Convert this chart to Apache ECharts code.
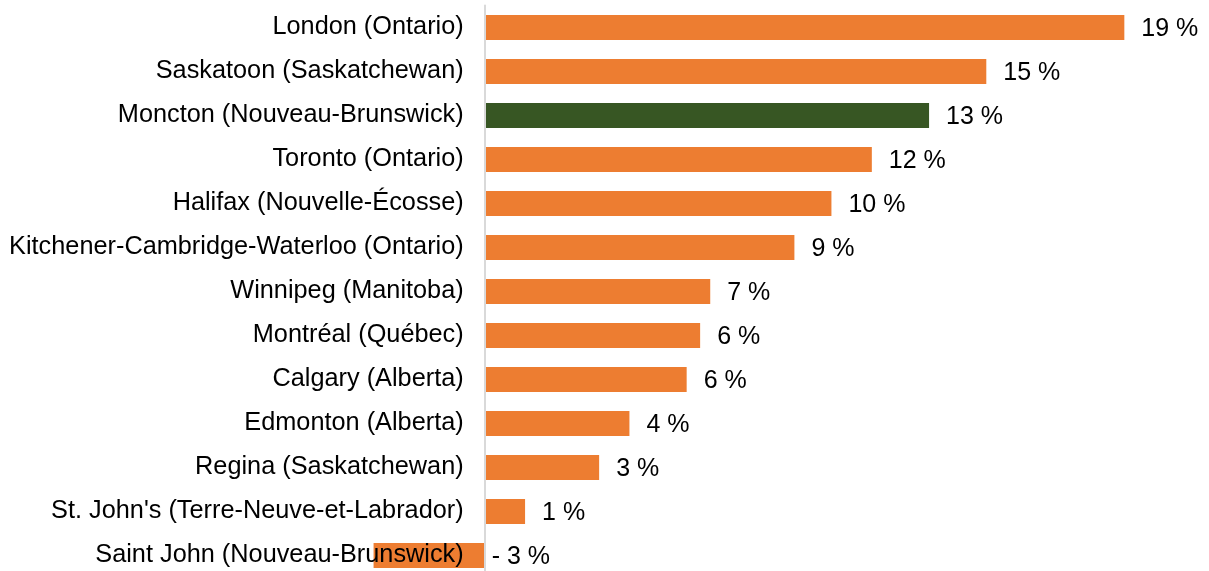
<!DOCTYPE html>
<html>
<head>
<meta charset="utf-8">
<script src="https://cdn.jsdelivr.net/npm/echarts@6/dist/echarts.min.js"></script>
<style>
	html, body { margin: 0; padding: 0; background: #fff; }
	#chart { width: 1209px; height: 571px; }
</style>
</head>
<body>
<div id="chart"></div>
<script type="text/javascript">
	// villes, de haut en bas
	var cities = [
		'London (Ontario)',
		'Saskatoon (Saskatchewan)',
		'Moncton (Nouveau-Brunswick)',
		'Toronto (Ontario)',
		'Halifax (Nouvelle-Écosse)',
		'Kitchener-Cambridge-Waterloo (Ontario)',
		'Winnipeg (Manitoba)',
		'Montréal (Québec)',
		'Calgary (Alberta)',
		'Edmonton (Alberta)',
		'Regina (Saskatchewan)',
		"St. John's (Terre-Neuve-et-Labrador)",
		'Saint John (Nouveau-Brunswick)'
	];
	// variation en %
	var values = [19.0, 14.9, 13.2, 11.5, 10.3, 9.2, 6.7, 6.4, 6.0, 4.3, 3.4, 1.2, -3.3];
	var highlightCity = 'Moncton (Nouveau-Brunswick)';

	var font = '"Liberation Sans", Arial, sans-serif';
	var xMin = -4, xMax = 20;
	var gridLeft = 350, gridWidth = 808;

	var seriesData = values.map(function (v, i) {
		var item = {
			value: v,
			itemStyle: { color: cities[i] === highlightCity ? '#375623' : '#ED7D31' }
		};
		if (v < 0) {
			item.label = { position: 'right', distance: 7 };
		}
		return item;
	});

	var myChart = echarts.init(document.getElementById('chart'), null, { renderer: 'canvas' });
	var option = {
		animation: false,
		grid: { left: gridLeft, width: gridWidth, top: 5.5, height: 572, outerBoundsMode: 'none', containLabel: false },
		xAxis: {
			type: 'value',
			min: xMin,
			max: xMax,
			show: false
		},
		yAxis: {
			type: 'category',
			data: cities,
			inverse: true,
			z: 5,
			// axe vertical placé sur le zéro
			offset: -(0 - xMin) * gridWidth / (xMax - xMin),
			axisLine: { show: true, onZero: false, lineStyle: { color: '#d9d9d9', width: 2 } },
			axisTick: { show: false },
			axisLabel: {
				margin: 21,
				color: '#000',
				fontSize: 25.3,
				fontFamily: font,
				padding: [2, 0, 0, 0]
			}
		},
		series: [{
			type: 'bar',
			data: seriesData,
			barWidth: 25,
			label: {
				show: true,
				position: 'right',
				distance: 17,
				offset: [0, 2],
				color: '#000',
				fontSize: 25,
				fontFamily: font,
				formatter: function (p) {
					var r = Math.round(p.value);
					return r < 0 ? '- ' + Math.abs(r) + ' %' : r + ' %';
				}
			}
		}]
	};
	myChart.setOption(option);
</script>
</body>
</html>
